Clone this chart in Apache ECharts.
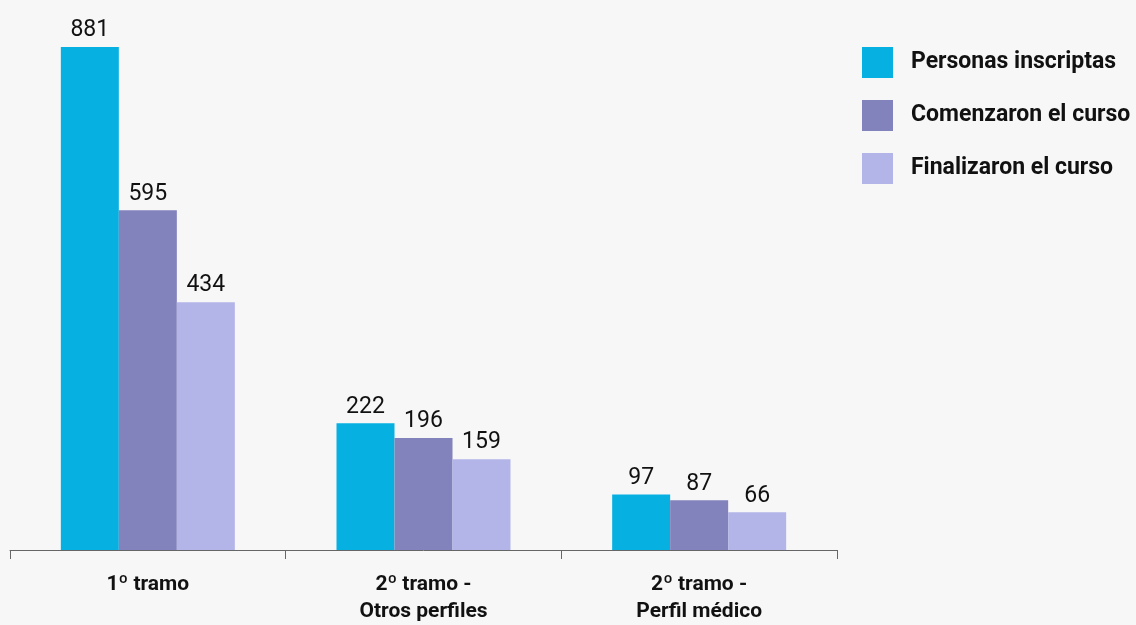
<!DOCTYPE html>
<html>
<head>
<meta charset="utf-8">
<script src="https://cdn.jsdelivr.net/npm/echarts@6/dist/echarts.min.js"></script>
<style>
  html, body { margin: 0; padding: 0; background: #f7f7f7; }
  #chart1 { width: 1136px; height: 625px; }
</style>
</head>
<body>
<div id="chart1"></div>
<script>
    // categorías del eje X
    var categorias = ['1º tramo', '2º tramo -\nOtros perfiles', '2º tramo -\nPerfil médico'];
    // valores de cada serie
    var inscriptas = [881, 222, 97];
    var comenzaron = [595, 196, 87];
    var finalizaron = [434, 159, 66];
    var nombres = ['Personas inscriptas', 'Comenzaron el curso', 'Finalizaron el curso'];
    var colores = ['#06b1e2', '#8282bc', '#b3b5e8'];

    var fuente = 'Roboto, "Noto Sans", sans-serif';

    var myChart = echarts.init(document.getElementById('chart1'));

    function serie(nombre, datos, color) {
        return {
            name: nombre,
            type: 'bar',
            data: datos,
            barWidth: 58,
            barGap: '0%',
            itemStyle: { color: color },
            label: {
                show: true,
                position: 'top',
                distance: 5,
                color: '#111',
                fontSize: 23,
                fontFamily: fuente
            }
        };
    }

    var option = {
        backgroundColor: '#f7f7f7',
        animation: false,
        grid: { left: 10, right: 299, top: 47, bottom: 73, containLabel: false },
        legend: {
            orient: 'vertical',
            left: 862,
            top: 47,
            itemWidth: 31,
            itemHeight: 31,
            itemGap: 22,
            icon: 'rect',
            padding: 0,
            textStyle: { color: '#111', fontSize: 23, fontWeight: 'bold', fontFamily: fuente, padding: [0, 0, 0, 13] },
            data: nombres
        },
        xAxis: {
            type: 'category',
            data: categorias,
            axisLine: { lineStyle: { color: '#666', width: 1 } },
            axisTick: { show: true, length: 9, lineStyle: { color: '#666', width: 1 } },
            axisLabel: {
                color: '#111',
                fontSize: 21,
                fontWeight: 'bold',
                fontFamily: fuente,
                lineHeight: 27,
                margin: 21,
                interval: 0
            }
        },
        yAxis: {
            type: 'value',
            min: 0,
            max: 881,
            show: false,
            splitLine: { show: false }
        },
        series: [
            serie(nombres[0], inscriptas, colores[0]),
            serie(nombres[1], comenzaron, colores[1]),
            serie(nombres[2], finalizaron, colores[2])
        ]
    };
    myChart.setOption(option);
</script>
</body>
</html>
